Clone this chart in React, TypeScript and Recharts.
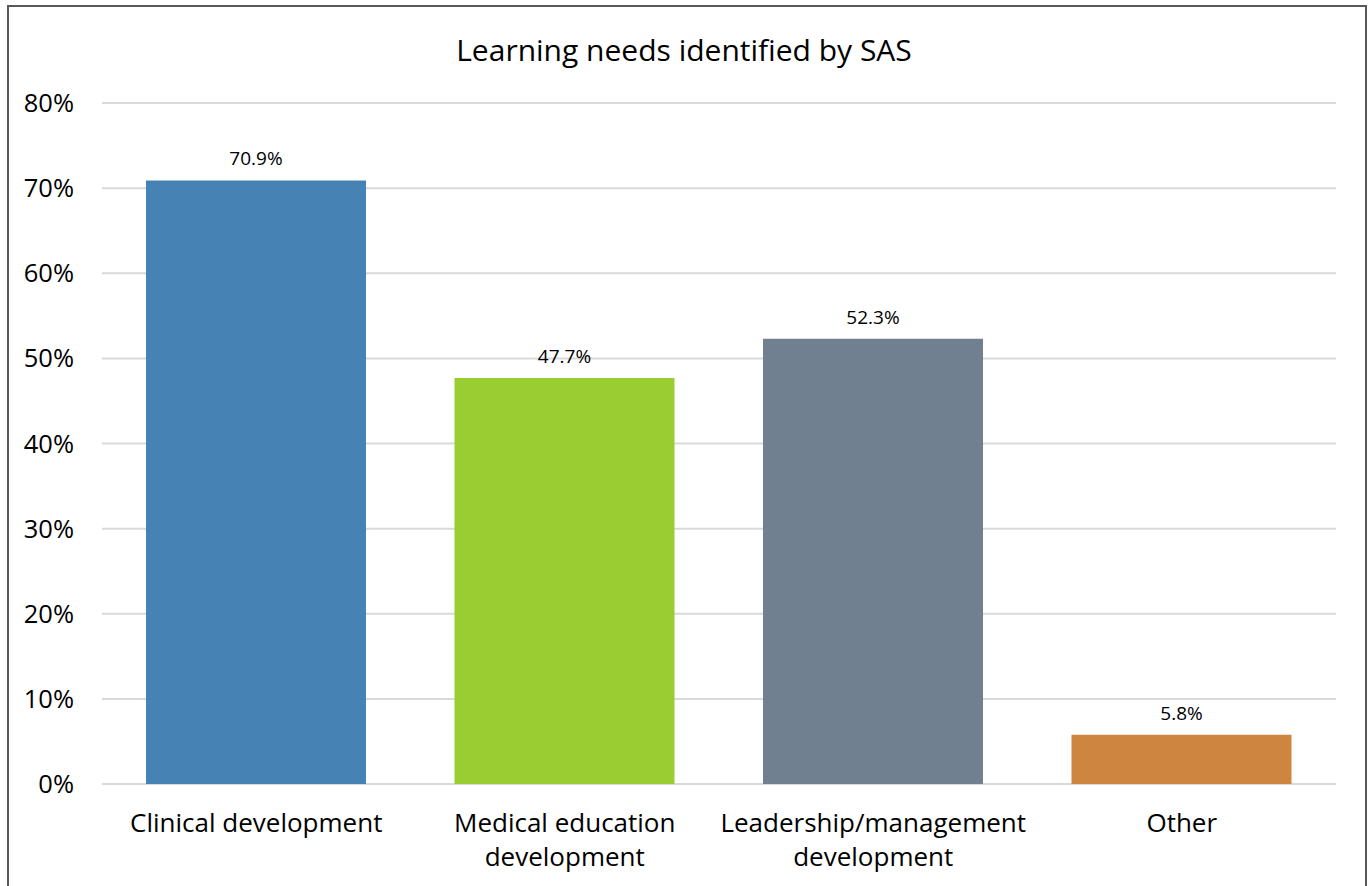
import { BarChart, Bar, XAxis, YAxis, CartesianGrid, Cell, LabelList } from 'recharts'

const categories = ['Clinical development', 'Medical education development', 'Leadership/management development', 'Other']
const values = [70.9, 47.7, 52.3, 5.8]
const colors = ['#4682B4', '#9ACD32', '#708090', '#CD853F']
const yTicks = [0, 10, 20, 30, 40, 50, 60, 70, 80]

const data = categories.map((name, i) => ({ name, value: values[i] }))
const FONT = '"Open Sans", Calibri, sans-serif'

// wrap a label into lines of up to maxChars, breaking on spaces
const wrap = (s: string, maxChars = 22) => {
  const lines: string[] = []
  let cur = ''
  for (const w of s.split(' ')) {
    const next = cur ? `${cur} ${w}` : w
    if (next.length > maxChars && cur) { lines.push(cur); cur = w } else cur = next
  }
  if (cur) lines.push(cur)
  return lines
}

const CategoryTick = ({ x, y, payload }: any) => (
  <text x={x} y={y} textAnchor="middle" fill="#000" fontSize={26} fontFamily={FONT}>
    {wrap(payload.value).map((line, i) => (
      <tspan key={i} x={x} dy={i === 0 ? 40 : 34}>{line}</tspan>
    ))}
  </text>
)

export default function App() {
  return (
    <div style={{ position: 'absolute', left: 0, top: 0, width: 1368, height: 886, background: '#fff', overflow: 'hidden' }}>
      <div style={{ position: 'absolute', left: 7, top: 5, width: 1356, height: 900, border: '2px solid #595959' }} />
      <div style={{ position: 'absolute', left: 0, top: 29, width: 1368, textAlign: 'center', fontFamily: FONT, fontSize: 30, color: '#000' }}>
        Learning needs identified by SAS
      </div>
      <div style={{ position: 'absolute', left: 0, top: 0 }}>
        <BarChart width={1368} height={886} data={data} margin={{ top: 103, right: 32, bottom: 12, left: 0 }}>
          <CartesianGrid vertical={false} stroke="#d9d9d9" strokeWidth={2} />
          <XAxis dataKey="name" axisLine={false} tickLine={false} height={90} interval={0} tick={<CategoryTick />} />
          <YAxis domain={[0, 80]} ticks={yTicks} width={102} axisLine={false} tickLine={false} tickSize={0} tickMargin={28}
            tickFormatter={(v: number) => `${v}%`} tick={{ fontSize: 25.5, fill: '#000', fontFamily: FONT }} />
          <Bar dataKey="value" barSize={220} isAnimationActive={false}>
            {data.map((_, i) => <Cell key={i} fill={colors[i]} />)}
            <LabelList dataKey="value" position="top" offset={15} formatter={(v: any) => `${Number(v).toFixed(1)}%`}
              style={{ fontSize: 19, fill: '#000', fontFamily: FONT }} />
          </Bar>
        </BarChart>
      </div>
    </div>
  )
}
